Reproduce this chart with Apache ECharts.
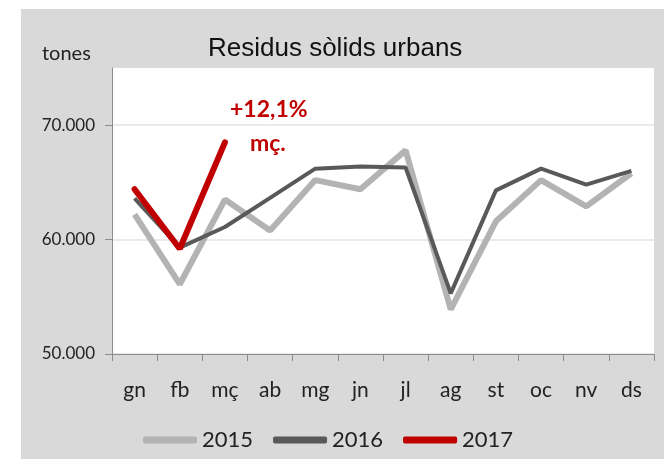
<!DOCTYPE html>
<html>
<head>
<meta charset="utf-8">
<script src="https://cdn.jsdelivr.net/npm/echarts@6/dist/echarts.min.js"></script>
<style>
  html, body { margin: 0; padding: 0; background: #fff; }
  #chart { position: absolute; left: 21px; top: 9px; width: 643px; height: 450px; }
</style>
</head>
<body>
<div id="chart"></div>
<script>
// mesos
const months = ['gn', 'fb', 'mç', 'ab', 'mg', 'jn', 'jl', 'ag', 'st', 'oc', 'nv', 'ds'];
// tones per mes
const data2015 = [62200, 56100, 63500, 60800, 65200, 64400, 67800, 53900, 61600, 65200, 62900, 65800];
const data2016 = [63600, 59300, 61100, 63650, 66200, 66400, 66300, 55300, 64300, 66200, 64800, 66000];
const data2017 = [64400, 59200, 68500];
const yTicks = [50000, 60000, 70000];

const labelFont = 'Lato, "Open Sans", sans-serif';

let chart = echarts.init(document.getElementById('chart'));

chart.setOption({
  backgroundColor: '#d9d9d9',
  animation: false,
  title: {
    text: 'Residus sòlids urbans',
    left: 187,
    top: 27,
    padding: 0,
    textStyle: {
      fontFamily: '"Liberation Sans", Arial, sans-serif',
      fontSize: 26,
      fontWeight: 'normal',
      color: '#111'
    }
  },
  grid: {
    left: 91,
    top: 59,
    right: 10,
    bottom: 105,
    show: true,
    backgroundColor: '#fff',
    borderWidth: 0
  },
  legend: {
    left: 117,
    top: 415,
    itemWidth: 54,
    itemHeight: 7,
    itemGap: 20,
    icon: 'roundRect',
    textStyle: { fontFamily: labelFont, fontSize: 22, color: '#222' },
    data: ['2015', '2016', '2017']
  },
  xAxis: {
    type: 'category',
    data: months,
    boundaryGap: true,
    axisLine: { lineStyle: { color: '#8c8c8c', width: 1 } },
    axisTick: { show: true, length: 7, lineStyle: { color: '#8c8c8c' } },
    axisLabel: { fontFamily: labelFont, fontSize: 21, color: '#222', margin: 26 }
  },
  yAxis: {
    type: 'value',
    min: 50000,
    max: 75000,
    interval: 10000,
    axisLine: { show: true, lineStyle: { color: '#8c8c8c', width: 1 } },
    axisTick: { show: true, length: 7, lineStyle: { color: '#8c8c8c' }, customValues: yTicks },
    axisLabel: {
      fontFamily: labelFont,
      fontSize: 17,
      color: '#222',
      margin: 17,
      customValues: yTicks,
      formatter: v => (v / 1000) + '.000'
    },
    splitLine: { lineStyle: { color: '#e3e3e3', width: 1.5 } }
  },
  graphic: [
    {
      type: 'text', left: 21, top: 35,
      style: { text: 'tones', fontFamily: labelFont, fontSize: 20, fill: '#222' }
    },
    {
      type: 'text', left: 209, top: 89,
      style: { text: '+12,1%', fontFamily: labelFont, fontSize: 23, fontWeight: 'bold', fill: '#c00000' }
    },
    {
      type: 'text', left: 229, top: 123,
      style: { text: 'mç.', fontFamily: labelFont, fontSize: 23, fontWeight: 'bold', fill: '#c00000' }
    }
  ],
  series: [
    {
      name: '2015', type: 'line', data: data2015, showSymbol: false, symbol: 'none',
      itemStyle: { color: '#b3b3b3' },
      lineStyle: { color: '#b3b3b3', width: 6 }
    },
    {
      name: '2016', type: 'line', data: data2016, showSymbol: false, symbol: 'none',
      itemStyle: { color: '#595959' },
      lineStyle: { color: '#595959', width: 4 }
    },
    {
      name: '2017', type: 'line', data: data2017, showSymbol: false, symbol: 'none',
      itemStyle: { color: '#c00000' },
      lineStyle: { color: '#c00000', width: 6, cap: 'round' }
    }
  ]
});
</script>
</body>
</html>
